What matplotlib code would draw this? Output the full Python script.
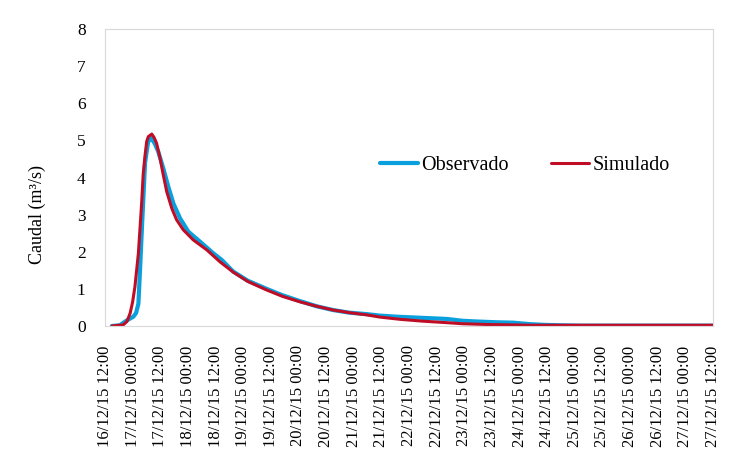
import pandas as pd
import matplotlib
matplotlib.use("Agg")
import matplotlib.pyplot as plt
import matplotlib.dates as mdates

plt.rcParams["font.family"] = ["Liberation Serif", "DejaVu Serif"]

# hours after 16/12/15 12:00
t_obs = [3, 6.5, 8.7, 10.9, 12.3, 13.5, 14.5, 15.2, 16.2, 17.4, 18.7, 20.0, 21.7,
         23.1, 25.3, 27.5, 29.7, 32.6, 36.2, 41.3, 47.0, 50.7, 55.6, 62.0, 70.2,
         77.0, 84.7, 92.0, 99.0, 106.0, 113.6, 119.4, 126.8, 134.0, 141.1, 148.4,
         155.4, 162.0, 170.2, 177.2, 184.5, 191.0, 197.6, 206, 230, 264]
q_obs = [0.0, 0.02, 0.12, 0.20, 0.25, 0.35, 0.60, 1.50, 2.86, 4.40, 4.95, 5.08, 4.90,
         4.70, 4.25, 3.75, 3.30, 2.90, 2.54, 2.27, 1.96, 1.78, 1.47, 1.22, 1.00,
         0.83, 0.67, 0.53, 0.43, 0.36, 0.32, 0.28, 0.25, 0.23, 0.21, 0.19,
         0.14, 0.12, 0.10, 0.09, 0.05, 0.03, 0.02, 0.01, 0.01, 0.01]

t_sim = [3, 7.9, 9.5, 10.9, 12.0, 13.0, 14.5, 15.9, 16.6, 17.4, 18.1, 18.8, 20.3,
         21.3, 22.4, 23.9, 25.3, 26.8, 29.0, 31.1, 34.0, 38.3, 44.2, 49.9, 55.7,
         62.0, 70.2, 77.0, 84.7, 92.0, 99.1, 106.0, 113.6, 119.4, 128.1, 138.0,
         148.4, 155.4, 166.0, 177.2, 184.5, 206, 264]
q_sim = [0.0, 0.03, 0.12, 0.34, 0.65, 1.06, 1.96, 3.30, 4.10, 4.60, 4.97, 5.10, 5.17,
         5.08, 4.92, 4.52, 4.07, 3.62, 3.17, 2.86, 2.59, 2.32, 2.05, 1.73, 1.45,
         1.20, 0.97, 0.80, 0.65, 0.53, 0.43, 0.36, 0.30, 0.24, 0.18, 0.13,
         0.09, 0.06, 0.04, 0.03, 0.02, 0.02, 0.02]

t0 = pd.Timestamp("2015-12-16 12:00")
tn = pd.Timestamp("2015-12-27 12:00")


def to_dates(hours):
    return [t0 + pd.Timedelta(hours=h) for h in hours]


fig = plt.figure(figsize=(7.38, 4.67), dpi=100)
ax = fig.add_axes([105 / 738, 1 - 326 / 467, 608 / 738, 297 / 467])

ax.plot(to_dates(t_obs), q_obs, color="#0a9fdd", lw=3.0, label="Observado",
        solid_joinstyle="round", solid_capstyle="round")
ax.plot(to_dates(t_sim), q_sim, color="#c00d26", lw=2.2, label="Simulado",
        solid_joinstyle="round", solid_capstyle="round")

ax.set_xlim(t0, tn)
ax.set_ylim(0, 8)
ax.set_yticks(range(0, 9))
ax.xaxis.set_major_locator(mdates.HourLocator(byhour=[0, 12]))
ax.xaxis.set_major_formatter(mdates.DateFormatter("%d/%m/%y %H:%M"))
ax.tick_params(axis="x", length=0, pad=14, labelsize=12, labelrotation=90)
ax.tick_params(axis="y", length=0, pad=14, labelsize=12.5)
for lbl in ax.get_xticklabels():
    lbl.set_x(lbl.get_position()[0])

for s in ax.spines.values():
    s.set_color("#d9d9d9")
    s.set_linewidth(0.8)

ax.set_ylabel("Caudal (m³/s)", fontsize=13)
ax.yaxis.set_label_coords(-0.097, 0.374)

ax.legend(loc="center left", bbox_to_anchor=(0.452, 0.539), ncol=2, frameon=False,
          fontsize=14.5, handlelength=1.9, handletextpad=0.15, columnspacing=2.1,
          borderpad=0, borderaxespad=0)

fig.savefig("out.png", dpi=100)
